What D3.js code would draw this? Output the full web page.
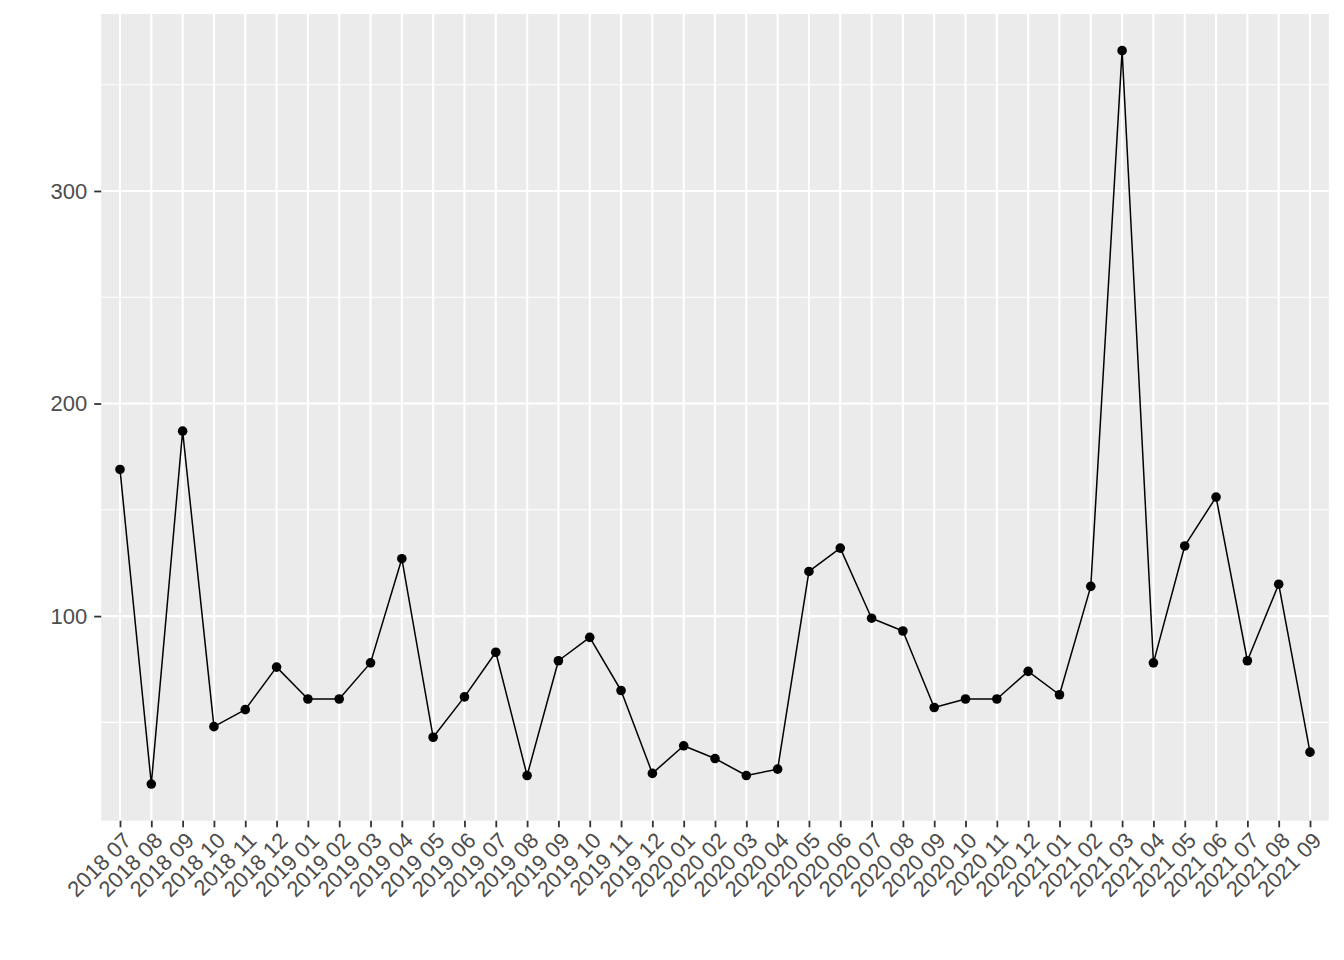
<!DOCTYPE html>
<html>
<head>
<meta charset="utf-8">
<script src="https://cdn.jsdelivr.net/npm/d3@7"></script>
<style>
  html, body { margin: 0; padding: 0; background: #ffffff; }
  svg { display: block; }
</style>
</head>
<body>
<svg id="chart" width="1344" height="960"></svg>
<script>
const categories = ["2018 07","2018 08","2018 09","2018 10","2018 11","2018 12",
  "2019 01","2019 02","2019 03","2019 04","2019 05","2019 06","2019 07","2019 08","2019 09","2019 10","2019 11","2019 12",
  "2020 01","2020 02","2020 03","2020 04","2020 05","2020 06","2020 07","2020 08","2020 09","2020 10","2020 11","2020 12",
  "2021 01","2021 02","2021 03","2021 04","2021 05","2021 06","2021 07","2021 08","2021 09"];
const values = [169, 21, 187, 48, 56, 76,
  61, 61, 78, 127, 43, 62, 83, 25, 79, 90, 65, 26,
  39, 33, 25, 28, 121, 132, 99, 93, 57, 61, 61, 74,
  63, 114, 366, 78, 133, 156, 79, 115, 36];
const yMajorTicks = [100, 200, 300];
const yMinorTicks = [50, 150, 250, 350];

const svg = d3.select("#chart");
const panel = { left: 101.2, right: 1328.8, top: 14, bottom: 820.7 };
const font = "'Liberation Sans', Arial, sans-serif";

const x = d3.scalePoint().domain(categories).range([panel.left, panel.right]).padding(0.6);
const vmin = d3.min(values), vmax = d3.max(values), span = vmax - vmin;
const y = d3.scaleLinear().domain([vmin - 0.05 * span, vmax + 0.05 * span]).range([panel.bottom, panel.top]);

// panel background
svg.append("rect")
  .attr("x", panel.left).attr("y", panel.top)
  .attr("width", panel.right - panel.left).attr("height", panel.bottom - panel.top)
  .attr("fill", "#EBEBEB");

// minor gridlines
svg.append("g").selectAll("line").data(yMinorTicks).join("line")
  .attr("x1", panel.left).attr("x2", panel.right)
  .attr("y1", d => y(d)).attr("y2", d => y(d))
  .attr("stroke", "#ffffff").attr("stroke-width", 1.1);

// major gridlines
svg.append("g").selectAll("line").data(yMajorTicks).join("line")
  .attr("x1", panel.left).attr("x2", panel.right)
  .attr("y1", d => y(d)).attr("y2", d => y(d))
  .attr("stroke", "#ffffff").attr("stroke-width", 2.1);
svg.append("g").selectAll("line").data(categories).join("line")
  .attr("x1", d => x(d)).attr("x2", d => x(d))
  .attr("y1", panel.top).attr("y2", panel.bottom)
  .attr("stroke", "#ffffff").attr("stroke-width", 2.1);

// line + points
const line = d3.line().x((d, i) => x(categories[i])).y(d => y(d));
svg.append("path").datum(values)
  .attr("d", line).attr("fill", "none")
  .attr("stroke", "#000000").attr("stroke-width", 1.5).attr("stroke-linejoin", "round");
svg.append("g").selectAll("circle").data(values).join("circle")
  .attr("cx", (d, i) => x(categories[i])).attr("cy", d => y(d))
  .attr("r", 4.8).attr("fill", "#000000");

// y axis
const yAxis = d3.axisLeft(y).tickValues(yMajorTicks).tickSize(7).tickPadding(7);
const gy = svg.append("g").attr("transform", `translate(${panel.left},0)`).call(yAxis);
gy.select(".domain").remove();
gy.selectAll(".tick line").attr("stroke", "#333333").attr("stroke-width", 1.8);
gy.selectAll(".tick text").attr("fill", "#4D4D4D").style("font-family", font).style("font-size", "22px");

// x axis
const xAxis = d3.axisBottom(x).tickSize(6.6).tickPadding(0);
const gx = svg.append("g").attr("transform", `translate(0,${panel.bottom})`).call(xAxis);
gx.select(".domain").remove();
gx.selectAll(".tick line").attr("stroke", "#333333").attr("stroke-width", 1.8);
gx.selectAll(".tick text")
  .attr("fill", "#4D4D4D").style("font-family", font).style("font-size", "22px")
  .attr("text-anchor", "end")
  .attr("y", 0).attr("dy", "0.72em")
  .attr("transform", "translate(1,10) rotate(-45)");
</script>
</body>
</html>
